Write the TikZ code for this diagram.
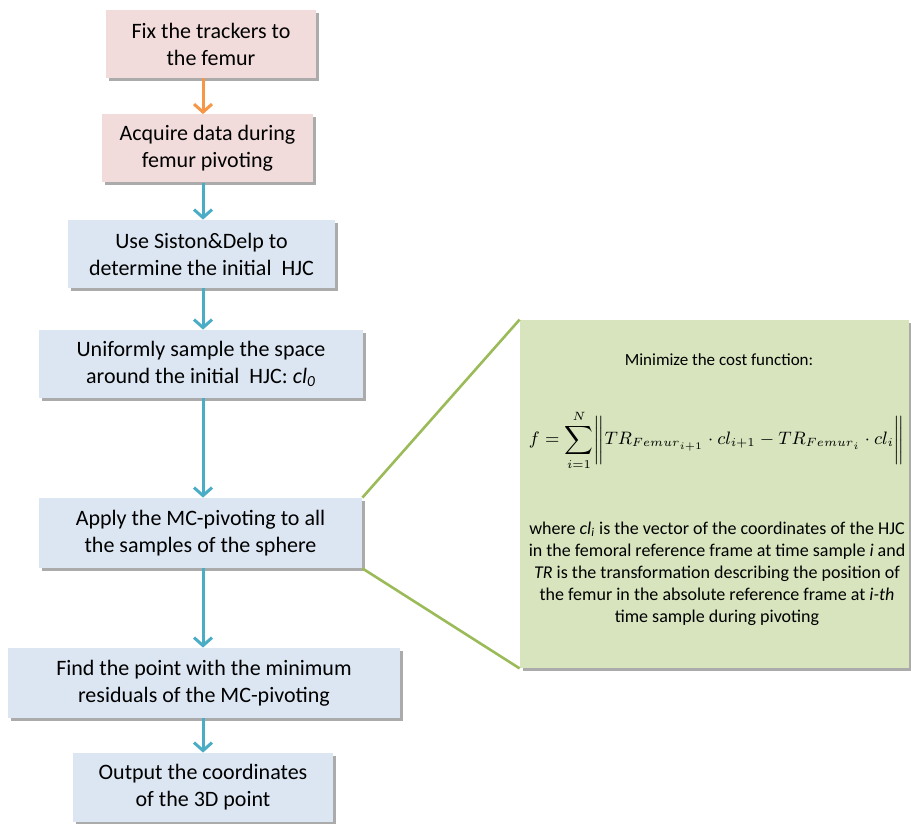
\documentclass[tikz,border=0pt]{standalone}
\usepackage{fontspec}
\setmainfont{Carlito}
\usetikzlibrary{arrows.meta,shadows}
\definecolor{boxpink}{HTML}{F2DCDB}
\definecolor{boxblue}{HTML}{DCE6F2}
\definecolor{boxgreen}{HTML}{D7E4BD}
\definecolor{linegreen}{HTML}{9BBB59}
\definecolor{arrowblue}{HTML}{4BACC6}
\definecolor{arroworange}{HTML}{F79646}

\begin{document}
\begin{tikzpicture}[x=0.5pt,y=-0.5pt,
    stepbox/.style={rectangle,minimum height=34pt,align=center,inner sep=2pt,
        font={\fontsize{11}{13.5}\selectfont},
        drop shadow={shadow xshift=1.5pt,shadow yshift=-1.5pt,fill=black!60,opacity=0.55}},
    startbox/.style={stepbox,fill=boxpink},
    workbox/.style={stepbox,fill=boxblue},
    costbox/.style={rectangle,fill=boxgreen,
        drop shadow={shadow xshift=1.5pt,shadow yshift=-1.5pt,fill=black!60,opacity=0.55}},
    flow/.style={line width=1.5pt,-{Straight Barb[length=4pt,width=9pt]}},
    callout/.style={linegreen,line width=1.3pt},
    ]
    \useasboundingbox (0,0) rectangle (911,824);
    % Flow axis
    \coordinate (axis) at (203,0);
    % Steps
    \node[startbox,minimum width=105pt] (fix) at (211,44) {Fix the trackers to\\the femur};
    \node[startbox,minimum width=105.5pt] (acquire) at (207.5,148.5) {Acquire data during\\femur pivoting};
    \node[workbox,minimum width=133.5pt] (siston) at (201.5,254) {Use Siston\&Delp to\\determine the initial\ \ HJC};
    \node[workbox,minimum width=162pt] (sample) at (201,364) {Uniformly sample the space\\around the initial\ \ HJC: \textit{cl\textsubscript{0}}};
    \node[workbox,minimum width=161.5pt,minimum height=35pt] (apply) at (200.5,533) {Apply the MC-pivoting to all\\the samples of the sphere};
    \node[workbox,minimum width=196pt,minimum height=35pt] (find) at (204,683) {Find the point with the minimum\\residuals of the MC-pivoting};
    \node[workbox,minimum width=130pt,minimum height=34.5pt] (output) at (203,787.5) {Output the coordinates\\of the 3D point};
    % Cost function
    \node[costbox,minimum width=194.5pt,minimum height=174pt] (cost) at (714.5,494) {};
    \node[font={\fontsize{8.5}{10}\selectfont}] (title) at (719,360) {Minimize the cost function:};
    \node[font={\fontsize{9}{11}\selectfont},inner sep=0pt] (formula) at (717,440)
        {$\displaystyle f=\sum_{i=1}^{N}\biggl\| TR_{\mathnormal{Femur}_{i+1}}\cdot cl_{i+1}-TR_{\mathnormal{Femur}_{i}}\cdot cl_{i}\biggr\|$};
    \node[align=center,font={\fontsize{9}{11}\selectfont}] (note) at (717,574)
        {where \textit{cl\textsubscript{i}} is the vector of the coordinates of the HJC\\
        in the femoral reference frame at time sample \textit{i} and\\
        \textit{TR} is the transformation describing the position of\\
        the femur in the absolute reference frame at \textit{i-th}\\
        time sample during pivoting};
    \draw[callout] (apply.north east) -- (cost.north west);
    \draw[callout] (apply.south east) -- (cost.south west);
    % Arrows
    \draw[flow,arroworange] (fix.south -| axis) -- (acquire.north -| axis);
    \draw[flow,arrowblue] (acquire.south -| axis) -- (siston.north -| axis);
    \draw[flow,arrowblue] (siston.south -| axis) -- (sample.north -| axis);
    \draw[flow,arrowblue] (sample.south -| axis) -- (apply.north -| axis);
    \draw[flow,arrowblue] (apply.south -| axis) -- (find.north -| axis);
    \draw[flow,arrowblue] (find.south -| axis) -- (output.north -| axis);
\end{tikzpicture}
\end{document}
